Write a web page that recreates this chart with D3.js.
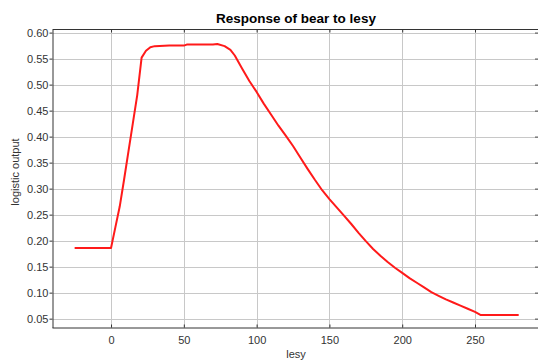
<!DOCTYPE html>
<html>
<head>
<meta charset="utf-8">
<script src="https://cdn.jsdelivr.net/npm/d3@7"></script>
<style>
  html, body { margin: 0; padding: 0; background: #fff; }
  svg { display: block; font-family: "Liberation Sans", Arial, sans-serif; }
</style>
</head>
<body>
<svg id="chart" width="538" height="363"></svg>
<script>
// Response curve of the "bear" model to the "lesy" variable
const lesy = [-25, 0, 3, 6, 9, 12, 15, 18, 21, 24, 27, 30, 40, 50, 52, 60, 70, 73, 78, 82, 85,
  90, 95, 100, 105, 110, 115, 120, 125, 130, 135, 140, 145, 150, 155, 160, 165, 170, 175, 180,
  185, 190, 195, 200, 205, 210, 215, 220, 225, 230, 235, 240, 245, 250, 254, 280];
const logisticOutput = [0.186, 0.186, 0.226, 0.266, 0.318, 0.372, 0.426, 0.48, 0.552, 0.565, 0.572,
  0.574, 0.575, 0.575, 0.577, 0.577, 0.577, 0.578, 0.574, 0.567, 0.556,
  0.531, 0.507, 0.486, 0.463, 0.442, 0.421, 0.402, 0.382, 0.360, 0.338, 0.317, 0.297, 0.280, 0.264,
  0.248, 0.232, 0.215, 0.199, 0.184, 0.171, 0.159, 0.148, 0.138, 0.128, 0.119, 0.110, 0.101,
  0.094, 0.087, 0.081, 0.075, 0.069, 0.063, 0.057, 0.057];
const xTicks = [0, 50, 100, 150, 200, 250];
const yTicks = [0.05, 0.10, 0.15, 0.20, 0.25, 0.30, 0.35, 0.40, 0.45, 0.50, 0.55, 0.60];

const titleText = "Response of bear to lesy";
const xLabel = "lesy";
const yLabel = "logistic output";

const svg = d3.select("#chart");
const plotLeft = 52.5, plotRight = 535, plotTop = 29.5, plotBottom = 327.5;

const x = d3.scaleLinear().domain([-40.2, 291.2]).range([plotLeft, plotRight]);
const y = d3.scaleLinear().domain([0.033, 0.606]).range([plotBottom, plotTop]);

svg.append("rect").attr("width", 538).attr("height", 363).attr("fill", "#fff");

// grid
const grid = svg.append("g").attr("stroke", "#c8c8c8").attr("stroke-width", 1)
  .attr("shape-rendering", "crispEdges");
grid.selectAll("line.v").data(xTicks).join("line").attr("class", "v")
  .attr("x1", d => Math.round(x(d)) + 0.5).attr("x2", d => Math.round(x(d)) + 0.5)
  .attr("y1", plotTop).attr("y2", plotBottom);
grid.selectAll("line.h").data(yTicks).join("line").attr("class", "h")
  .attr("y1", d => Math.round(y(d)) + 0.5).attr("y2", d => Math.round(y(d)) + 0.5)
  .attr("x1", plotLeft).attr("x2", plotRight);

// axes
function styleAxis(g, showText) {
  g.attr("font-family", null).attr("font-size", 11);
  g.selectAll(".tick line").attr("stroke", "#333");
  g.selectAll(".domain").attr("stroke", "#333");
  g.selectAll(".tick text").attr("fill", "#333");
  if (!showText) g.selectAll(".tick text").remove();
}

svg.append("g").attr("transform", `translate(0,${plotBottom})`)
  .call(d3.axisBottom(x).tickValues(xTicks).tickSizeInner(-3).tickSizeOuter(0).tickPadding(9)
    .tickFormat(d3.format("d")))
  .call(g => styleAxis(g, true))
  .call(g => g.select(".domain").attr("d", `M${plotLeft},0.5H538`));

svg.append("g").attr("transform", `translate(0,${plotTop})`)
  .call(d3.axisTop(x).tickValues(xTicks).tickSizeInner(-3).tickSizeOuter(0))
  .call(g => styleAxis(g, false))
  .call(g => g.select(".domain").attr("d", `M${plotLeft},0H538`));

svg.append("g").attr("transform", `translate(${plotLeft},0)`)
  .call(d3.axisLeft(y).tickValues(yTicks).tickSizeInner(3).tickSizeOuter(0).tickPadding(1)
    .tickFormat(d3.format(".2f")))
  .call(g => styleAxis(g, true));

svg.append("g").attr("transform", `translate(${plotRight},0)`)
  .call(d3.axisRight(y).tickValues(yTicks).tickSizeInner(3).tickSizeOuter(0))
  .call(g => styleAxis(g, false))
  .call(g => g.select(".domain").remove());

// curve
svg.append("path")
  .datum(lesy.map((v, i) => [v, logisticOutput[i]]))
  .attr("fill", "none")
  .attr("stroke", "#ff1a1a")
  .attr("stroke-width", 2)
  .attr("stroke-linejoin", "round")
  .attr("d", d3.line().x(d => x(d[0])).y(d => y(d[1])));

// titles
svg.append("text").attr("x", 296).attr("y", 23)
  .attr("text-anchor", "middle").attr("font-weight", "bold").attr("font-size", 13.5)
  .attr("fill", "#000").text(titleText);

svg.append("text").attr("x", 296).attr("y", 358)
  .attr("text-anchor", "middle").attr("font-size", 11).attr("fill", "#333").text(xLabel);

svg.append("text").attr("transform", `translate(19,172) rotate(-90)`)
  .attr("text-anchor", "middle").attr("font-size", 11).attr("fill", "#333").text(yLabel);
</script>
</body>
</html>
